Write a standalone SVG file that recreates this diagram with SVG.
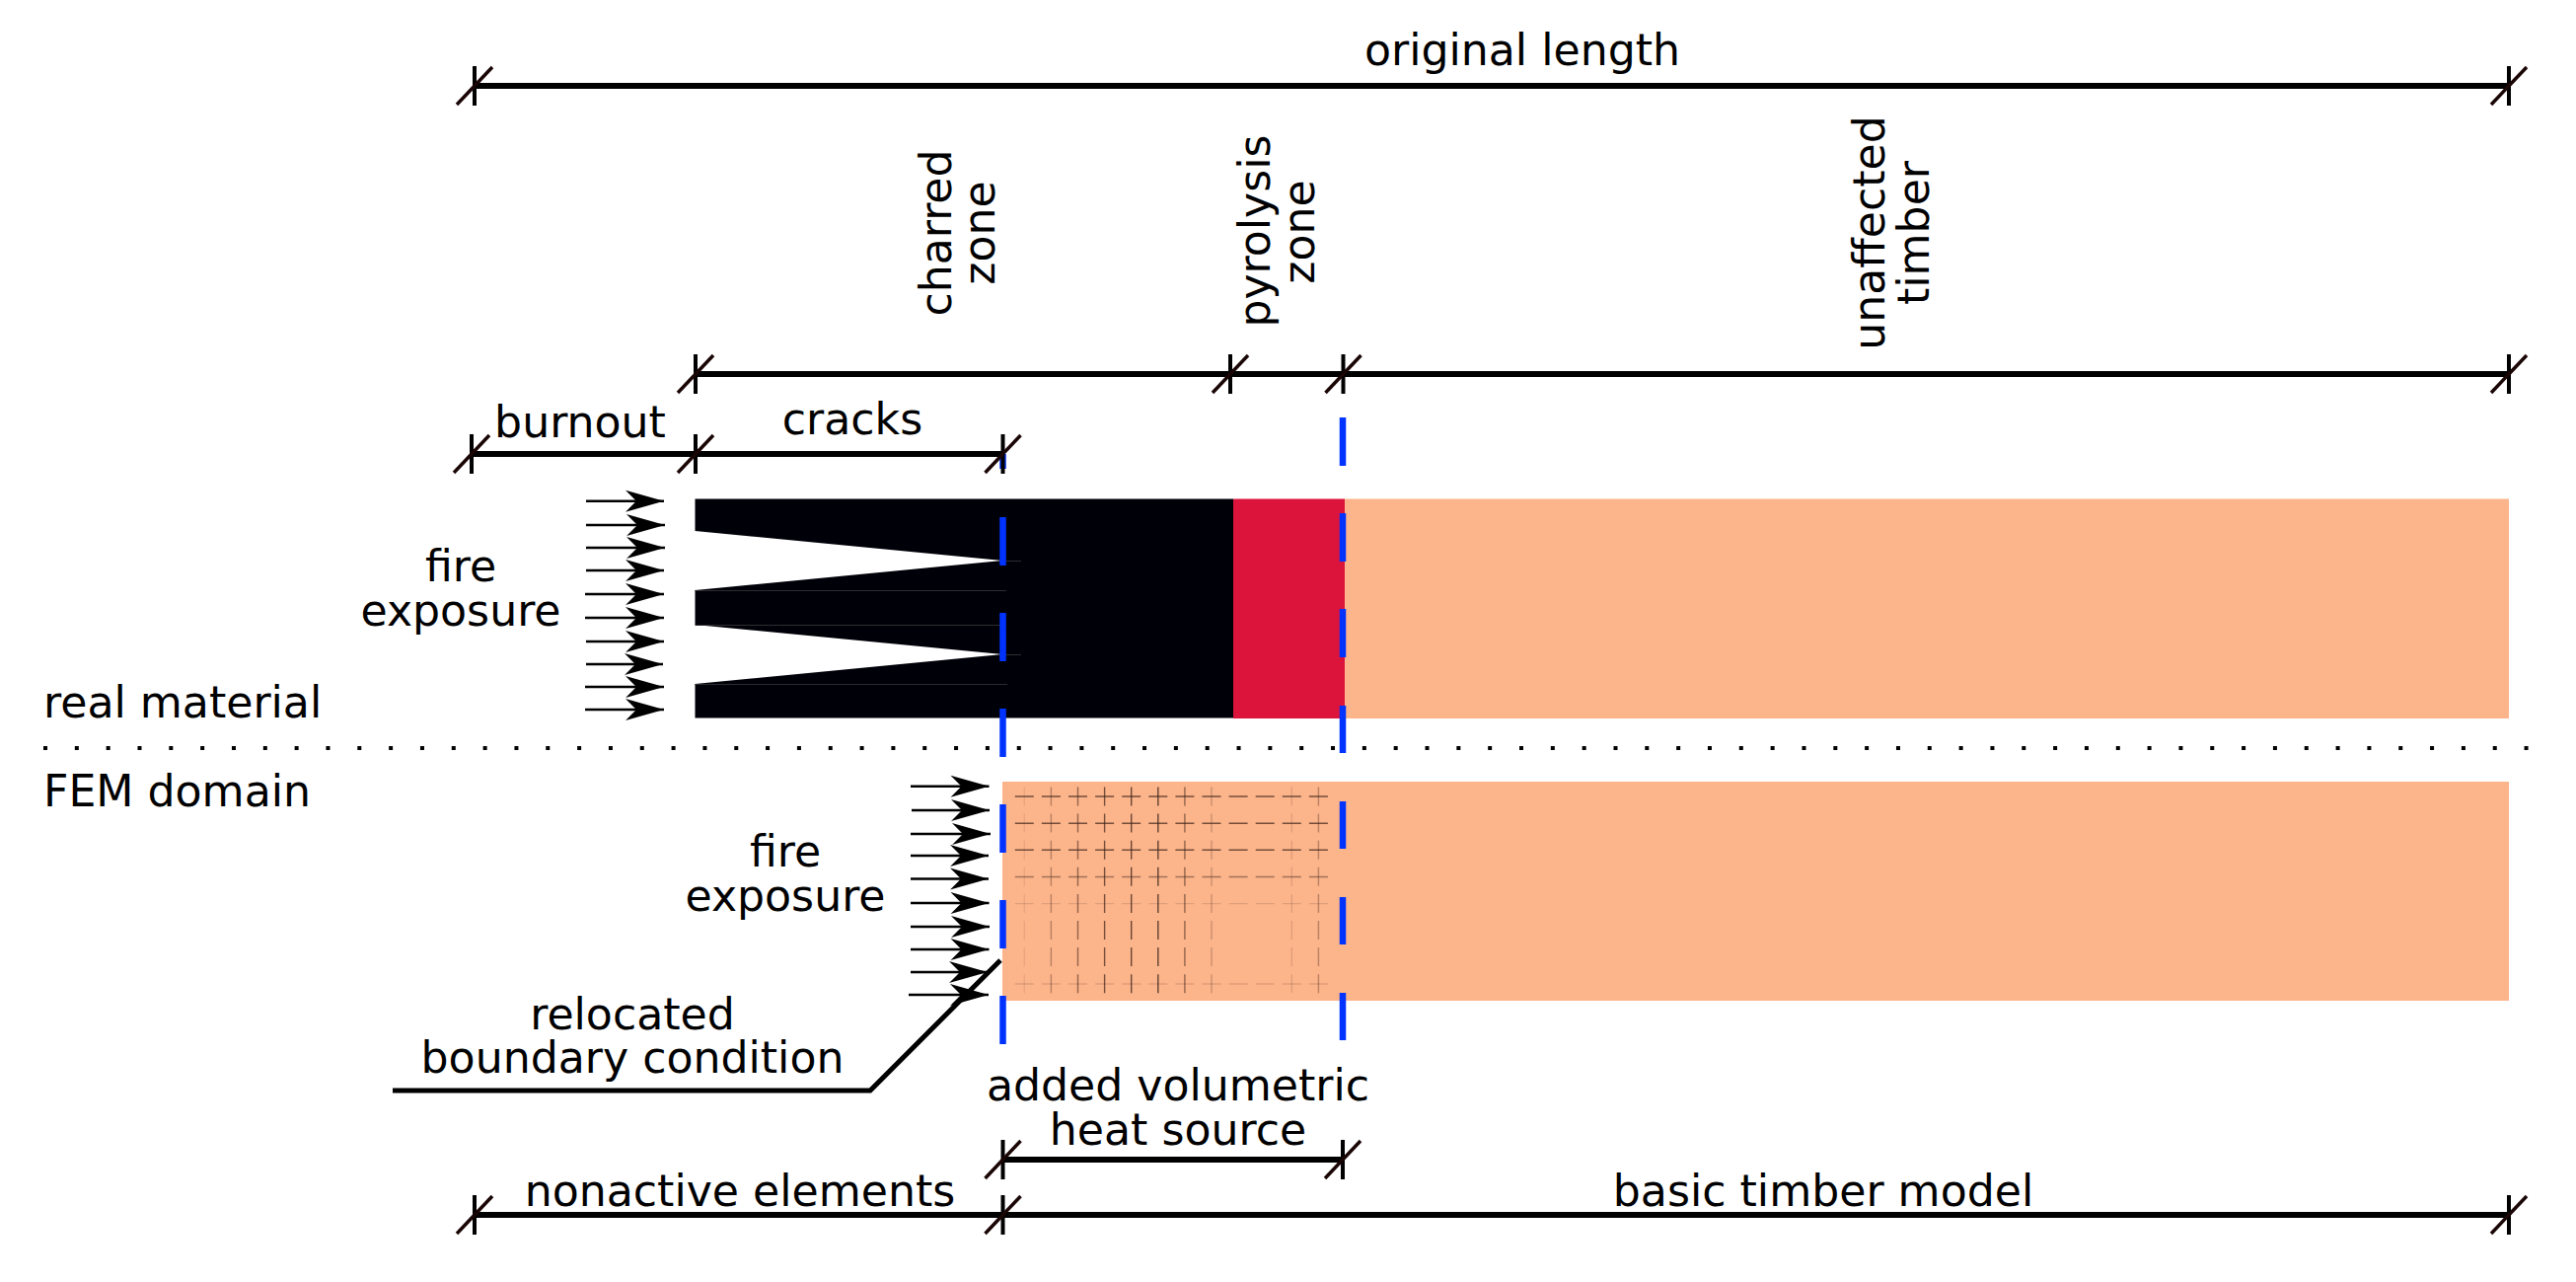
<svg xmlns="http://www.w3.org/2000/svg" width="2611" height="1299" viewBox="0 0 2611 1299">
<style>
text{font-family:"DejaVu Sans",sans-serif;font-size:44.200px;fill:#000;text-anchor:middle}
text.l{text-anchor:start}
.dim{stroke:#000;stroke-width:6;fill:none}
.tick{stroke:#000;stroke-width:4;fill:none}
.slash{stroke:#1a0505;stroke-width:3.5;fill:none}
.fire{stroke:#000;stroke-width:2.5;fill:none;marker-end:url(#head)}
.blue{stroke:#0033ff;stroke-width:6.5;fill:none}
.mesh{stroke:#3a2318;stroke-width:1.4;fill:none;stroke-dasharray:19 8.1}
.seam{stroke:#2c2c30;stroke-width:1;fill:none}
</style>
<defs>
<marker id="head" markerUnits="userSpaceOnUse" markerWidth="50" markerHeight="30" refX="39" refY="12" orient="auto" overflow="visible"><path d="M39 12L0 1L11 12L0 23Z" fill="#000" stroke="none"/></marker>
<g id="t"><path class="tick" d="M0-20V20"/><path class="slash" d="M-18 19L18-19"/></g>
</defs>
<g id="material">
<rect x="1363" y="505.500" width="1180" height="222.500" fill="#fcb48b"/>
<rect x="1250" y="505.500" width="113" height="222.500" fill="#dc143c"/>
<path d="M704.500 505.500H1250V727.500H704.500V693L1016 663L704.500 633V598L1016 568L704.500 538Z" fill="#000008"/>
<path class="seam" d="M1016 568.500H1035M704.500 598.500H1020M704.500 633.500H1020M1016 663.500H1035M704.500 693.500H1021"/>
</g>
<g id="fem-domain">
<rect x="1016" y="792" width="1527" height="222" fill="#fcb48b"/>
<g id="mesh-columns" class="mesh">
<path d="M1038.300 797.500V1008" opacity=".1"/><path d="M1065.400 797.500V1008" opacity=".35"/><path d="M1092.500 797.500V1008" opacity=".55"/><path d="M1119.600 797.500V1008" opacity=".7"/><path d="M1146.700 797.500V1008" opacity=".75"/><path d="M1173.800 797.500V1008" opacity=".8"/><path d="M1200.900 797.500V1008" opacity=".55"/><path d="M1228 797.500V1008" opacity=".25"/><path d="M1309.300 797.500V1008" opacity=".15"/><path d="M1336.400 797.500V1008" opacity=".35"/>
</g>
<g id="mesh-rows" class="mesh">
<path d="M1028.800 807H1346" opacity=".7"/><path d="M1028.800 834.200H1346" opacity=".7"/><path d="M1028.800 861.300H1346" opacity=".7"/><path d="M1028.800 888.500H1346" opacity=".45"/><path d="M1028.800 915.600H1346" opacity=".15"/><path d="M1028.800 997H1346" opacity=".15"/>
</g>
</g>
<g id="connectors">
<g id="fire-upper">
<path class="fire" d="M594 507.700H673"/><path class="fire" d="M594 532H674"/><path class="fire" d="M594 555H674"/><path class="fire" d="M594 578H673"/><path class="fire" d="M593 602H673"/><path class="fire" d="M593 626H673"/><path class="fire" d="M594 650H673"/><path class="fire" d="M594 673H672"/><path class="fire" d="M593 696H673"/><path class="fire" d="M593 719H673"/>
</g>
<g id="fire-lower">
<path class="fire" d="M923 796.700H1002.500"/><path class="fire" d="M924 821H1003"/><path class="fire" d="M923 845H1004"/><path class="fire" d="M923 867H1002"/><path class="fire" d="M923 890.500H1002"/><path class="fire" d="M923 915H1002.500"/><path class="fire" d="M923 939H1003"/><path class="fire" d="M923 962H1002.500"/><path class="fire" d="M923 985H1001"/><path class="fire" d="M921 1008H1002"/>
</g>
<path class="blue" d="M1016.500 460V475M1016.500 524V573M1016.500 621V670M1016.500 718V767M1016.500 815V864M1016.500 912V961M1016.500 1009V1058"/>
<path class="blue" d="M1361 423V472M1361 520V569M1361 617V666M1361 715V763M1361 812V860M1361 909V957M1361 1006V1054"/>
<path d="M398 1105H882L1014 973" fill="none" stroke="#000" stroke-width="5"/>
<path id="divider" d="M44 758H2566" fill="none" stroke="#000" stroke-width="4" stroke-dasharray="4 27.830"/>
<g id="dimensions">
<path class="dim" d="M481 87H2543"/><path class="dim" d="M705 379H2543"/><path class="dim" d="M478 460H1016"/><path class="dim" d="M1016 1175H1361"/><path class="dim" d="M481 1231H2543"/>
<use href="#t" x="481" y="87"/><use href="#t" x="2543" y="87"/>
<use href="#t" x="705" y="379"/><use href="#t" x="1247" y="379"/><use href="#t" x="1361.500" y="379"/><use href="#t" x="2543" y="379"/>
<use href="#t" x="478" y="460"/><use href="#t" x="705" y="460"/><use href="#t" x="1016.500" y="460"/>
<use href="#t" x="1016.500" y="1175"/><use href="#t" x="1361" y="1175"/>
<use href="#t" x="481" y="1231"/><use href="#t" x="1016.500" y="1231"/><use href="#t" x="2543" y="1231"/>
</g>
</g>
<g id="labels">
<text x="1543" y="66">original length</text>
<text transform="translate(964 236) rotate(-90)">charred</text>
<text transform="translate(1008 236) rotate(-90)">zone</text>
<text transform="translate(1287 234) rotate(-90)">pyrolysis</text>
<text transform="translate(1332 235) rotate(-90)">zone</text>
<text transform="translate(1910 236) rotate(-90)">unaffected</text>
<text transform="translate(1955 236) rotate(-90)">timber</text>
<text x="588" y="443">burnout</text>
<text x="864" y="440">cracks</text>
<text x="467" y="589">fire</text>
<text x="467" y="634">exposure</text>
<text class="l" x="44" y="727">real material</text>
<text class="l" x="44" y="817">FEM domain</text>
<text x="796" y="878">fire</text>
<text x="796" y="923">exposure</text>
<text x="641" y="1043">relocated</text>
<text x="641" y="1087">boundary condition</text>
<text x="1194" y="1115">added volumetric</text>
<text x="1194" y="1160">heat source</text>
<text x="750" y="1222">nonactive elements</text>
<text x="1848" y="1222">basic timber model</text>
</g>
</svg>
